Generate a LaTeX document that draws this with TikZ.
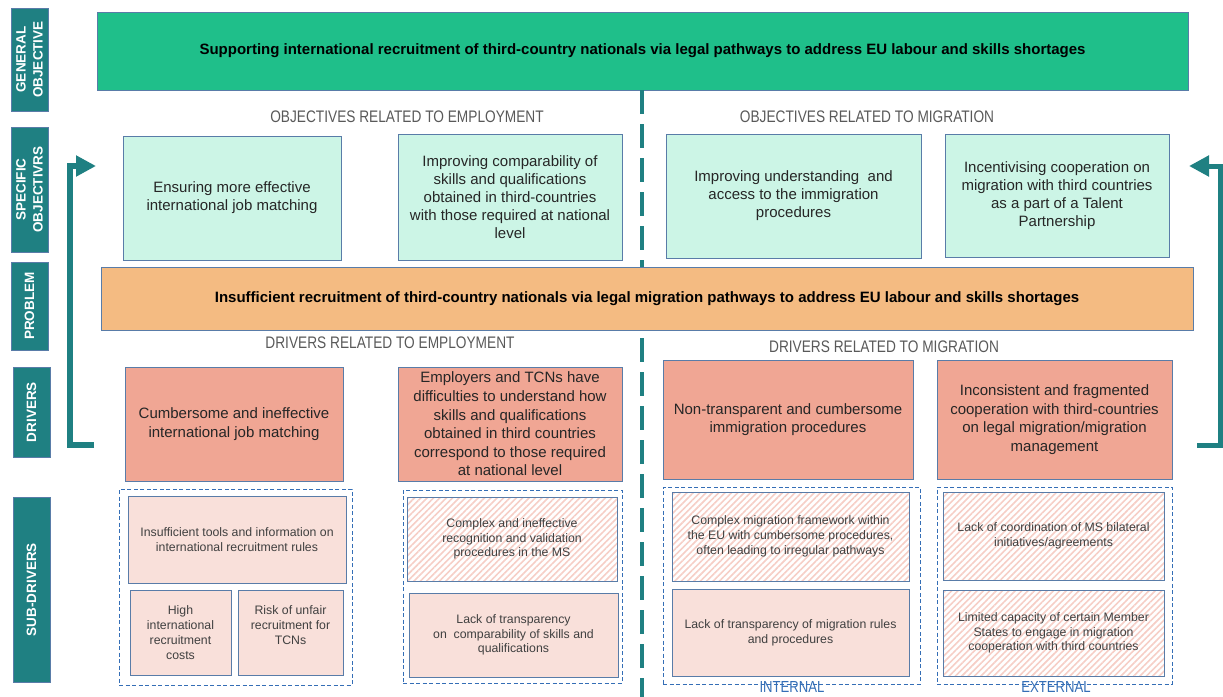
\documentclass[tikz,border=0pt]{standalone}
\usepackage{fontspec}
\setmainfont{Liberation Sans}
\newfontfamily\narrowfont[FakeStretch=0.82]{Liberation Sans}
\usetikzlibrary{arrows.meta,patterns.meta}

\definecolor{tealbox}{RGB}{31,128,130}
\definecolor{genfill}{RGB}{31,191,138}
\definecolor{sofill}{RGB}{204,245,230}
\definecolor{probfill}{RGB}{244,187,130}
\definecolor{drvfill}{RGB}{240,166,148}
\definecolor{subfill}{RGB}{249,224,218}
\definecolor{hatchpink}{RGB}{246,206,198}
\definecolor{boxline}{RGB}{89,124,168}
\definecolor{dashblue}{RGB}{52,110,182}
\definecolor{headgray}{RGB}{89,89,89}
\definecolor{txtdark}{RGB}{38,38,38}
\definecolor{txtsub}{RGB}{64,64,64}

\tikzset{
  box/.style={draw=boxline, line width=0.9pt, align=center, inner sep=2pt},
  sidelabel/.style={draw=boxline, line width=0.9pt, fill=tealbox, text=white,
    rotate=90, align=center, minimum height=37pt,
    font=\bfseries\fontsize{13.5pt}{17pt}\selectfont},
  goalbox/.style={box, fill=genfill, text=black,
    font=\bfseries\fontsize{15pt}{18pt}\selectfont},
  probbox/.style={box, fill=probfill, text=black,
    font=\bfseries\fontsize{15pt}{18pt}\selectfont},
  objbox/.style={box, fill=sofill, text=txtdark,
    font=\fontsize{15pt}{18pt}\selectfont},
  drvbox/.style={box, fill=drvfill, text=txtdark,
    font=\fontsize{15pt}{18.6pt}\selectfont},
  subbox/.style={box, fill=subfill, text=txtsub,
    font=\fontsize{12.3pt}{14.8pt}\selectfont},
  hatchbox/.style={box, fill=white, pattern color=hatchpink,
    pattern={Lines[angle=45,distance=4.5pt,line width=1.6pt]}, text=txtsub,
    font=\fontsize{12.3pt}{14.8pt}\selectfont},
  groupbox/.style={draw=dashblue, line width=0.9pt, dash pattern=on 4pt off 2.5pt},
  header/.style={text=headgray, font=\narrowfont\fontsize{16.7pt}{20pt}\selectfont},
  sidetag/.style={text=dashblue, anchor=base, inner sep=0pt,
    font=\narrowfont\fontsize{16pt}{19pt}\selectfont},
  splitline/.style={draw=tealbox, line width=3.5pt, dash pattern=on 24pt off 10pt},
  backarrow/.style={draw=tealbox, line join=miter, -{Triangle[length=20pt,width=20pt]}}
}

\begin{document}
\begin{tikzpicture}[x=1pt,y=-1pt]
\useasboundingbox (0,0) rectangle (1223,696);

% row labels
\node[sidelabel, minimum width=103pt] (lgen) at (29.5,59.5) {GENERAL\\OBJECTIVE};
\node[sidelabel, minimum width=125pt] (lspec) at (29.5,189.5) {SPECIFIC\\OBJECTIVRS};
\node[sidelabel, minimum width=88pt] (lprob) at (29.5,306) {PROBLEM};
\node[sidelabel, minimum width=90pt] (ldrv) at (31.5,412) {DRIVERS};
\node[sidelabel, minimum width=185pt] (lsub) at (31.5,589.5) {SUB-DRIVERS};

% general objective and problem
\node[goalbox, minimum width=1091pt, minimum height=78pt] (gen) at (642.5,51)
  {Supporting international recruitment of third-country nationals via legal pathways to address EU labour and skills shortages};
\node[probbox, minimum width=1092pt, minimum height=63pt] (prob) at (647,298.5)
  {Insufficient recruitment of third-country nationals via legal migration pathways to address EU labour and skills shortages};

% split between employment and migration
\coordinate (sa) at (642,90);
\coordinate (sb) at (642,267);
\coordinate (sc) at (642,338);
\coordinate (sd) at (642,700);
\draw[splitline] (sa) -- (sb);
\draw[splitline] (sc) -- (sd);

\node[header] (hobjemp) at (407,117) {OBJECTIVES RELATED TO EMPLOYMENT};
\node[header] (hobjmig) at (867,117) {OBJECTIVES RELATED TO MIGRATION};
\node[header] (hdrvemp) at (390,343) {DRIVERS RELATED TO EMPLOYMENT};
\node[header] (hdrvmig) at (884,347) {DRIVERS RELATED TO MIGRATION};

% specific objectives
\node[objbox, minimum width=218pt, minimum height=124pt] (obj1) at (232,198)
  {Ensuring more effective\\international job matching};
\node[objbox, minimum width=224pt, minimum height=126pt] (obj2) at (510,197)
  {Improving comparability of\\skills and qualifications\\obtained in third-countries\\with those required at national\\level};
\node[objbox, minimum width=255pt, minimum height=124pt] (obj3) at (793.5,196)
  {Improving understanding\ \ and\\access to the immigration\\procedures};
\node[objbox, minimum width=224pt, minimum height=123pt] (obj4) at (1057,195.5)
  {Incentivising cooperation on\\migration with third countries\\as a part of a Talent\\Partnership};

% drivers
\node[drvbox, minimum width=218pt, minimum height=114pt] (drv1) at (234,424)
  {Cumbersome and ineffective\\international job matching};
\node[drvbox, minimum width=224pt, minimum height=114pt] (drv2) at (510,424)
  {Employers and TCNs have\\difficulties to understand how\\skills and qualifications\\obtained in third countries\\correspond to those required\\at national level};
\node[drvbox, minimum width=250pt, minimum height=119pt] (drv3) at (788,419.5)
  {Non-transparent and cumbersome\\immigration procedures};
\node[drvbox, minimum width=235pt, minimum height=119pt] (drv4) at (1054.5,419.5)
  {Inconsistent and fragmented\\cooperation with third-countries\\on legal migration/migration\\management};

% sub-driver groups
\node[groupbox, minimum width=233pt, minimum height=196pt] (grp1) at (235.5,587) {};
\node[groupbox, minimum width=219pt, minimum height=193pt] (grp2) at (512.5,586.5) {};
\node[groupbox, minimum width=257pt, minimum height=197pt] (grp3) at (791.5,585.5) {};
\node[groupbox, minimum width=235pt, minimum height=197pt] (grp4) at (1054.5,585.5) {};

% sub-drivers
\node[subbox, minimum width=218pt, minimum height=87pt] (sub1) at (237,539.5)
  {Insufficient tools and information on\\international recruitment rules};
\node[subbox, minimum width=101pt, minimum height=85pt] (sub2) at (180.5,632.5)
  {High\\international\\recruitment\\costs};
\node[subbox, minimum width=105pt, minimum height=85pt] (sub3) at (290.5,632.5)
  {Risk of unfair\\recruitment for\\TCNs\\\mbox{}};
\node[hatchbox, minimum width=210pt, minimum height=84pt] (sub4) at (512,539)
  {Complex and ineffective\\recognition and validation\\procedures in the MS};
\node[subbox, minimum width=209pt, minimum height=84pt] (sub5) at (513.5,635)
  {Lack of transparency\\on\ \ comparability of skills and\\qualifications};
\node[hatchbox, minimum width=237pt, minimum height=89pt] (sub6) at (790.5,536.5)
  {Complex migration framework within\\the EU with cumbersome procedures,\\often leading to irregular pathways};
\node[subbox, minimum width=237pt, minimum height=87pt] (sub7) at (790.5,632.5)
  {Lack of transparency of migration rules\\and procedures};
\node[hatchbox, minimum width=221pt, minimum height=88pt] (sub8) at (1053.5,536)
  {Lack of coordination of MS bilateral\\initiatives/agreements};
\node[hatchbox, minimum width=221pt, minimum height=86pt] (sub9) at (1053.5,633)
  {Limited capacity of certain Member\\States to engage in migration\\cooperation with third countries};

\node[sidetag] (tint) at (792,692) {INTERNAL};
\node[sidetag] (text) at (1056,692) {EXTERNAL};

% feedback arrows
\coordinate (la1) at (94,445);
\coordinate (la2) at (96,166);
\coordinate (ra1) at (1197,445);
\coordinate (ra2) at (1189,166);
\draw[backarrow, line width=6pt] (la1) -- ++(-24,0) |- (la2);
\draw[backarrow, line width=5pt] (ra1) -- ++(23,0) |- (ra2);
\end{tikzpicture}
\end{document}
